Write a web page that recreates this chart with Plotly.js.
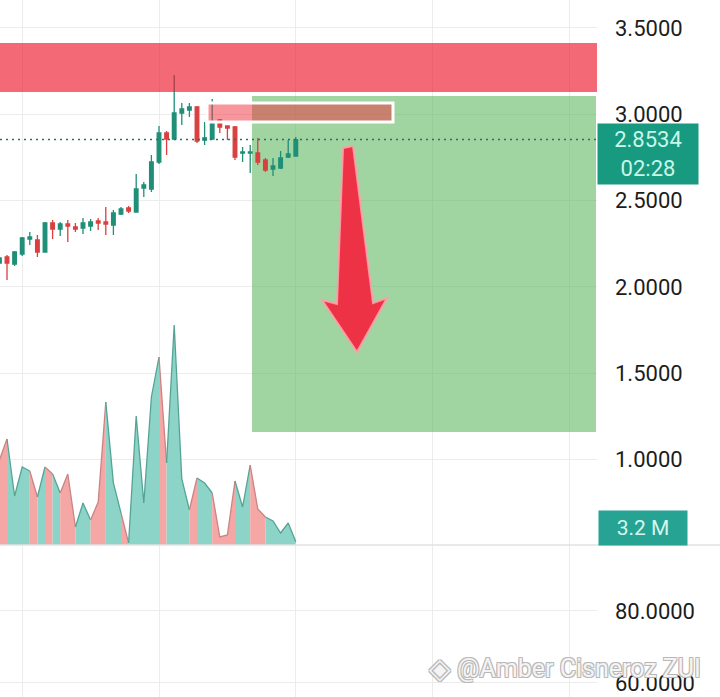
<!DOCTYPE html>
<html>
<head>
<meta charset="utf-8">
<script src="https://cdn.plot.ly/plotly-3.0.1.min.js"></script>
<style>
  html, body { margin: 0; padding: 0; background: #ffffff; }
  #chart { width: 720px; height: 697px; }
</style>
</head>
<body>
<div id="chart"></div>
<script>
// ---- data ----
const candleIdx = [-1,0,1,2,3,4,5,6,7,8,9,10,11,12,13,14,15,16,17,18,19,20,21,22,23,24,25,26,27,28,29,30,31,32,33,34,35,36,37,38];
const openP  = [2.1385,2.1732,2.1327,2.1906,2.2775,2.2717,2.2022,2.3702,2.3355,2.3644,2.3471,2.3413,2.3528,2.3818,2.3760,2.3586,2.4224,2.4571,2.4340,2.5730,2.5672,2.7236,2.8917,2.8569,3.0075,3.0249,3.0423,2.8511,2.8569,2.9670,2.9322,2.9264,2.7758,2.7758,2.7758,2.7352,2.6831,2.6889,2.7526,2.7584];
const highP  = [2.1790,2.1848,2.2080,2.2891,2.3181,2.3007,2.3760,2.3876,2.3760,2.3876,2.3702,2.3992,2.3934,2.3992,2.4629,2.4455,2.4629,2.4687,2.6541,2.6078,2.7642,2.9322,2.9030,3.2277,3.0655,3.0655,3.0481,2.9554,3.0886,2.9728,2.9322,2.9322,2.8105,2.8221,2.8627,2.7468,2.7468,2.7874,2.8511,2.8685];
const lowP   = [2.1269,2.0400,2.1211,2.1790,2.2428,2.1732,2.2022,2.2775,2.2949,2.2601,2.3181,2.3065,2.3239,2.3297,2.3007,2.3007,2.4166,2.4282,2.4340,2.5209,2.5498,2.7121,2.7642,2.8511,2.9380,2.9844,2.8337,2.8221,2.8569,2.8917,2.8511,2.7352,2.7236,2.6599,2.7063,2.6657,2.6425,2.6831,2.7468,2.7584];
const closeP = [2.1674,2.1385,2.2022,2.2833,2.2891,2.2022,2.3702,2.3355,2.3644,2.3528,2.3355,2.3702,2.3760,2.3702,2.3644,2.4282,2.4513,2.4397,2.5672,2.5904,2.7236,2.8917,2.8569,3.0075,3.0307,3.0423,2.8453,2.8627,2.9554,2.9264,2.9206,2.7526,2.7816,2.7816,2.7236,2.6773,2.7005,2.7468,2.7700,2.8534];
const volumeM = [85,106,49,78,74,48,78,71,52,71,18,42,25,43,143,62,32,2,129,42,148,188,82,220,66,35,67,62,52,8,10,64,38,80,36,28,24,12,22,3.2];

const priceTicks = [1.0,1.5,2.0,2.5,3.0,3.5];
const lowerTicks = [60,80];
const lastPrice = 2.8534;
const countdown = "02:28";
const lastVolumeLabel = "3.2 M";
const watermark = "@Amber Cisneroz ZUI";

// ---- colours ----
const UP = '#1f8f78', DOWN = '#d9403f';
const VOL_UP = '#8dd4c8', VOL_DOWN = '#f4a7a5';
const VOL_UP_LINE = '#56a396', VOL_DOWN_LINE = '#c98585';
const GRID = '#ececec';
const FONT = 'Roboto, "Noto Sans", Arial, sans-serif';

const traces = [];

// volume area: runs of segments coloured by the candle at each segment's right end
const segUp = [];
for (let i = 0; i < candleIdx.length - 1; i++) segUp.push(closeP[i+1] >= openP[i+1]);
let start = 0;
for (let s = 1; s <= segUp.length; s++) {
  if (s === segUp.length || segUp[s] !== segUp[start]) {
    const up = segUp[start];
    traces.push({
      type: 'scatter', mode: 'lines',
      x: candleIdx.slice(start, s + 1),
      y: volumeM.slice(start, s + 1),
      fill: 'tozeroy',
      fillcolor: up ? VOL_UP : VOL_DOWN,
      line: { color: up ? VOL_UP_LINE : VOL_DOWN_LINE, width: 1.3 },
      xaxis: 'x', yaxis: 'y2',
      hoverinfo: 'skip', showlegend: false
    });
    start = s;
  }
}

// price candles
traces.push({
  type: 'candlestick',
  x: candleIdx, open: openP, high: highP, low: lowP, close: closeP,
  increasing: { line: { color: UP, width: 1.3 }, fillcolor: UP },
  decreasing: { line: { color: DOWN, width: 1.3 }, fillcolor: DOWN },
  whiskerwidth: 0,
  xaxis: 'x', yaxis: 'y',
  hoverinfo: 'skip', showlegend: false
});

// empty lower pane (keeps its grid)
traces.push({
  type: 'scatter', mode: 'lines', x: [], y: [],
  xaxis: 'x', yaxis: 'y3', hoverinfo: 'skip', showlegend: false
});

const paneSplit = 1 - 545/697;
const outline = '1px 1px 0 #b8b8b8, -1px -1px 0 #b8b8b8, 1px -1px 0 #b8b8b8, -1px 1px 0 #b8b8b8';

const layout = {
  width: 720, height: 697,
  margin: { l: 0, r: 123, t: 0, b: 0 },
  paper_bgcolor: '#ffffff', plot_bgcolor: '#ffffff',
  font: { family: FONT, size: 22, color: '#1c1c1c' },
  showlegend: false,
  boxgap: 0.32,
  xaxis: {
    range: [-0.921, 77.63],
    showgrid: true, gridcolor: GRID, gridwidth: 1,
    tick0: 2, dtick: 18, tickmode: 'linear',
    showticklabels: false, zeroline: false, showline: false, ticks: '',
    rangeslider: { visible: false }, fixedrange: true
  },
  yaxis: {
    domain: [paneSplit, 1],
    range: [0.505, 3.662],
    side: 'right',
    tickmode: 'array', tickvals: priceTicks,
    tickformat: '.4f',
    ticks: '', ticklabelstandoff: 17,
    showgrid: true, gridcolor: GRID, gridwidth: 1,
    zeroline: false, showline: false, fixedrange: true,
    tickfont: { family: FONT, size: 22, color: '#1c1c1c' }
  },
  yaxis2: {
    domain: [paneSplit, 1],
    overlaying: 'y',
    range: [0, 545],
    showgrid: false, showticklabels: false, zeroline: false, showline: false, fixedrange: true
  },
  yaxis3: {
    domain: [0, paneSplit],
    anchor: 'x',
    range: [56.1, 98.3],
    side: 'right',
    tickmode: 'array', tickvals: lowerTicks,
    tickformat: '.4f',
    ticks: '', ticklabelstandoff: 17,
    showgrid: true, gridcolor: GRID, gridwidth: 1,
    zeroline: false, showline: false, fixedrange: true,
    tickfont: { family: FONT, size: 22, color: '#1c1c1c' }
  },
  shapes: [
    // green target zone
    { type: 'rect', xref: 'x', yref: 'y', x0: 32.24, x1: 77.5, y0: 1.1593, y1: 3.106,
      fillcolor: 'rgba(97,183,97,0.6)', line: { width: 0 }, layer: 'between' },
    // red resistance band
    { type: 'rect', xref: 'paper', yref: 'y', x0: 0, x1: 1, y0: 3.1292, y1: 3.4131,
      fillcolor: 'rgba(236,20,40,0.64)', line: { width: 0 }, layer: 'above' },
    // small supply box
    { type: 'rect', xref: 'x', yref: 'y', x0: 26.32, x1: 50.79, y0: 2.9554, y1: 3.0655,
      fillcolor: 'rgba(240,45,60,0.5)', line: { color: '#ffffff', width: 3 }, layer: 'above' },
    // current price dotted line
    { type: 'line', xref: 'paper', yref: 'y', x0: 0, x1: 1, y0: lastPrice, y1: lastPrice,
      line: { color: '#2b6f66', width: 1.5, dash: '2px,4px' }, layer: 'above' },
    // down arrow
    { type: 'path', xref: 'x', yref: 'y', layer: 'above',
      path: 'M 44.21 2.8048 L 45.53 2.8163 L 48.16 1.9067 L 50.0 1.9357 L 46.05 1.6228 L 41.45 1.9241 L 43.42 1.9009 Z',
      fillcolor: '#ee3246', line: { color: 'rgba(255,160,170,0.9)', width: 2 } },
    // pane separator
    { type: 'line', xref: 'paper', yref: 'paper', x0: 0, x1: 720/597, y0: paneSplit, y1: paneSplit,
      line: { color: '#e2e2e2', width: 1.5 }, layer: 'above' }
  ],
  annotations: [
    { xref: 'paper', yref: 'y', x: 1, y: lastPrice, xanchor: 'left', yanchor: 'top', yshift: 17,
      text: lastPrice.toFixed(4) + '<br>' + countdown, showarrow: false,
      width: 100, height: 60, borderpad: 0, bgcolor: '#189a80', align: 'center',
      font: { family: FONT, size: 22, color: '#c9f7ea' } },
    { xref: 'paper', yref: 'paper', x: 598/597, y: 1 - 528/697, xanchor: 'left', yanchor: 'middle',
      text: lastVolumeLabel, showarrow: false,
      width: 88, height: 34, borderpad: 0, bgcolor: '#27a393', align: 'center',
      font: { family: FONT, size: 21, color: '#d4f6ef' } },
    { xref: 'paper', yref: 'paper', x: 440/597, y: 1 - 668/697, xanchor: 'center', yanchor: 'middle',
      text: '◈', showarrow: false,
      font: { family: 'DejaVu Sans', size: 28, color: '#f4f4f4', shadow: outline } },
    { xref: 'paper', yref: 'paper', x: 455/597, y: 1 - 668/697, xanchor: 'left', yanchor: 'middle',
      text: watermark, showarrow: false,
      font: { family: FONT, size: 25, color: '#f4f4f4', shadow: outline } }
  ]
};

Plotly.newPlot('chart', traces, layout, { staticPlot: true, displayModeBar: false });
</script>
</body>
</html>
